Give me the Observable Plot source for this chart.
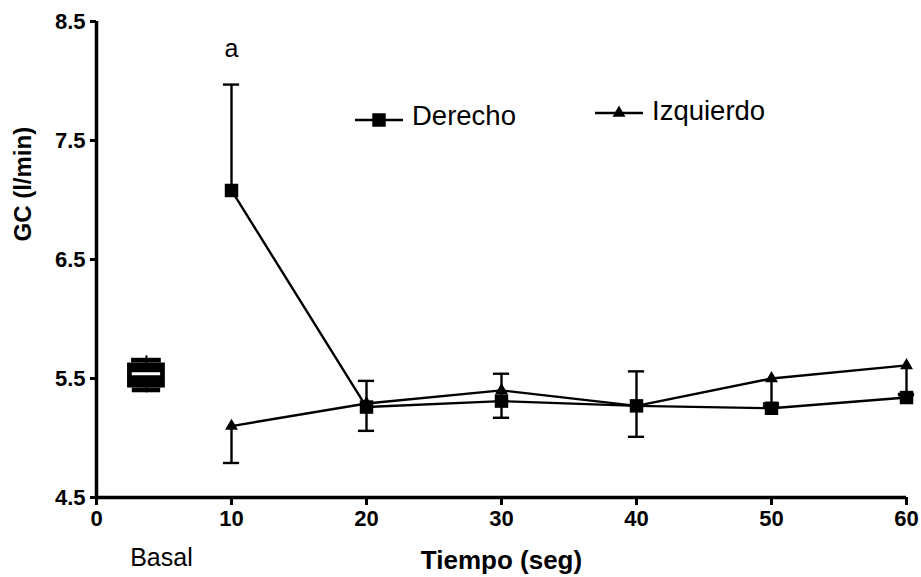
<!DOCTYPE html>
<html>
<head>
<meta charset="utf-8">
<script src="https://cdn.jsdelivr.net/npm/d3@7"></script>
<script src="https://cdn.jsdelivr.net/npm/@observablehq/plot@0.6"></script>
<style>
  body { margin: 0; background: #fff; }
  #chart { position: relative; width: 921px; height: 577px; font-family: "Liberation Sans", Arial, sans-serif; }
  #chart svg { position: absolute; left: 0; top: 0; }
  g[aria-label$="-axis tick"] { stroke-width: 3px; }
</style>
</head>
<body>
<div id="chart"></div>
<script>
// Gasto cardiaco (l/min) a lo largo del tiempo (seg)
const tiempo = [10, 20, 30, 40, 50, 60];
const derecho = [7.08, 5.26, 5.31, 5.27, 5.25, 5.34];
const derechoSup = [7.97, 5.48, 5.54, 5.56, 5.29, 5.37];    // extremo superior de la barra de error
const izquierdo = [5.10, 5.29, 5.40, 5.27, 5.50, 5.61];
const izquierdoInf = [4.79, 5.06, 5.17, 5.01, 5.27, 5.36];  // extremo inferior de la barra de error
const basal = { x: 3.7, min: 5.38, inf: 5.42, mediana: 5.54, sup: 5.63, tope: 5.67, max: 5.69 };
const yTicks = [4.5, 5.5, 6.5, 7.5, 8.5];
const xTicks = [0, 10, 20, 30, 40, 50, 60];
const series = ["Derecho", "Izquierdo"];

const der = tiempo.map((t, i) => ({ t, v: derecho[i], e: derechoSup[i] }));
const izq = tiempo.map((t, i) => ({ t, v: izquierdo[i], e: izquierdoInf[i] }));
const cap = 0.6;
const lw = 2.4;

const font = "Liberation Sans, Arial, sans-serif";

const plot = Plot.plot({
  width: 921,
  height: 577,
  marginLeft: 96,
  marginRight: 15,
  marginTop: 21,
  marginBottom: 80,
  style: { fontFamily: font, background: "white", color: "black", overflow: "visible" },
  x: { domain: [0, 60] },
  y: { domain: [4.5, 8.5] },
  marks: [
    Plot.axisY({ ticks: yTicks, tickFormat: d => d.toFixed(1), tickSize: 6, tickPadding: 5,
      strokeWidth: 3, fontSize: 22, fontWeight: "bold", label: null }),
    Plot.axisX({ ticks: xTicks, tickFormat: d => String(d), tickSize: 8, tickPadding: 5,
      strokeWidth: 3, fontSize: 22, fontWeight: "bold", label: null }),
    Plot.ruleX([0], { strokeWidth: 3.5 }),
    Plot.ruleY([4.5], { strokeWidth: 3.5 }),

    // basal
    Plot.ruleX([basal], { x: "x", y1: "min", y2: "max", strokeWidth: 2 }),
    Plot.rect([basal], { x1: d => d.x - 1.1, x2: d => d.x + 1.1, y1: "sup", y2: "tope", fill: "black" }),
    Plot.rect([basal], { x1: d => d.x - 1.4, x2: d => d.x + 1.4, y1: "inf", y2: "sup", fill: "black" }),
    Plot.rect([basal], { x1: d => d.x - 1.05, x2: d => d.x + 1.05, y1: "min", y2: "inf", fill: "black" }),
    Plot.ruleY([basal], { y: "mediana", x1: d => d.x - 1.05, x2: d => d.x + 1.05, stroke: "white", strokeWidth: 3 }),

    // series
    Plot.line(der, { x: "t", y: "v", strokeWidth: lw }),
    Plot.line(izq, { x: "t", y: "v", strokeWidth: lw }),
    Plot.ruleX(der, { x: "t", y1: "v", y2: "e", strokeWidth: lw }),
    Plot.ruleY(der, { y: "e", x1: d => d.t - cap, x2: d => d.t + cap, strokeWidth: lw }),
    Plot.ruleX(izq, { x: "t", y1: "v", y2: "e", strokeWidth: lw }),
    Plot.ruleY(izq, { y: "e", x1: d => d.t - cap, x2: d => d.t + cap, strokeWidth: lw }),
    Plot.dot(der, { x: "t", y: "v", symbol: "square", r: 7.6, fill: "black" }),
    Plot.dot(izq, { x: "t", y: "v", symbol: "triangle", r: 4.8, fill: "black" }),

    // textos
    Plot.text([der[0]], { x: "t", y: 8.2, text: () => "a", fontSize: 25, lineAnchor: "bottom" }),
    Plot.text(["Basal"], { x: () => basal.x, dx: 15, frameAnchor: "bottom", dy: 68, lineAnchor: "bottom", fontSize: 25 }),
    Plot.text(["Tiempo (seg)"], { frameAnchor: "bottom", dy: 71, lineAnchor: "bottom", fontSize: 26, fontWeight: "bold" }),
    Plot.text(["GC (l/min)"], { frameAnchor: "left", rotate: -90, dx: -73, dy: -18, fontSize: 24, fontWeight: "bold" })
  ]
});

const chart = document.getElementById("chart");
chart.appendChild(plot);

// leyenda
const leg = d3.select(chart).append("svg")
  .attr("width", 921).attr("height", 577)
  .style("pointer-events", "none");
const items = [
  { name: series[0], symbol: d3.symbolSquare, size: Math.PI * 7.6 * 7.6, x0: 355, y: 120, tx: 412, ty: 125 },
  { name: series[1], symbol: d3.symbolTriangle, size: Math.PI * 4.8 * 4.8, x0: 595, y: 113, tx: 652, ty: 120 }
];
for (const it of items) {
  leg.append("line").attr("x1", it.x0).attr("x2", it.x0 + 48).attr("y1", it.y).attr("y2", it.y)
    .attr("stroke", "black").attr("stroke-width", lw);
  leg.append("path").attr("d", d3.symbol(it.symbol, it.size)())
    .attr("transform", `translate(${it.x0 + 24},${it.y})`).attr("fill", "black");
  leg.append("text").attr("x", it.tx).attr("y", it.ty).text(it.name)
    .attr("font-family", font).attr("font-size", 27.5).attr("fill", "black");
}
</script>
</body>
</html>
